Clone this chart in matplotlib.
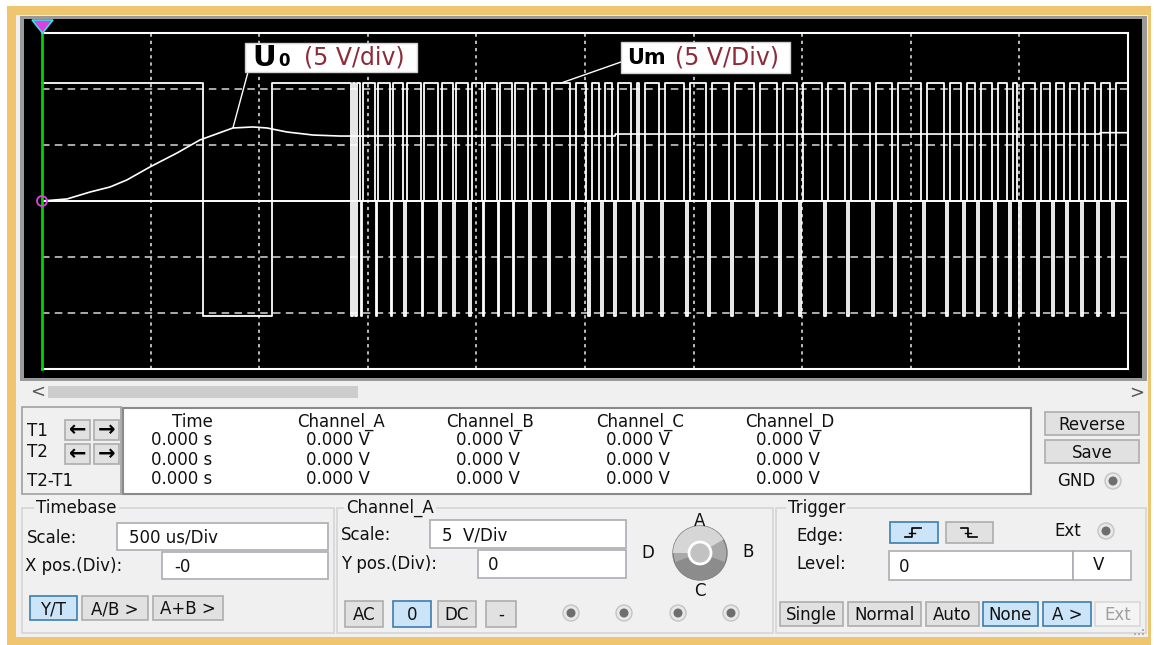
import matplotlib.pyplot as plt
from matplotlib.patches import Rectangle, Circle, Polygon, Wedge

# ---- traces (time in ms, 500 us/Div ; volts, 5 V/Div) ----
u0_time = [0.0, 0.115, 0.221, 0.313, 0.391, 0.497, 0.622, 0.727, 0.879, 0.971,
           1.036, 1.128, 1.248, 1.372, 2.638, 2.640, 4.870, 4.872, 5.0]
u0_volt = [0.0, 0.18, 0.80, 1.25, 1.88, 3.04, 4.29, 5.45, 6.52, 6.61,
           6.52, 6.16, 5.89, 5.80, 5.80, 5.98, 5.98, 6.10, 6.10]

um_high = 10.5
um_low = -10.3
um_low_start = 0.741
um_low_end = 1.059
dip_time = [1.427, 1.446, 1.471, 1.540, 1.609, 1.671, 1.752, 1.832, 1.897, 1.971,
            2.033, 2.102, 2.171, 2.247, 2.334, 2.445, 2.518, 2.578, 2.638, 2.726,
            2.762, 2.855, 2.970, 3.071, 3.177, 3.292, 3.398, 3.490, 3.605, 3.711,
            3.826, 3.927, 4.061, 4.167, 4.245, 4.309, 4.388, 4.457, 4.503, 4.586,
            4.655, 4.719, 4.788, 4.862, 4.931]
dip_width = [0.012, 0.012, 0.016, 0.016, 0.016, 0.016, 0.018, 0.018, 0.014, 0.018,
             0.016, 0.016, 0.016, 0.018, 0.028, 0.028, 0.028, 0.024, 0.028, 0.028,
             0.024, 0.028, 0.028, 0.030, 0.028, 0.030, 0.030, 0.030, 0.028, 0.030,
             0.030, 0.030, 0.028, 0.030, 0.028, 0.028, 0.028, 0.028, 0.024, 0.028,
             0.028, 0.028, 0.028, 0.028, 0.028]
spike_width = 0.007
ground_level = 0.0

# ---- readout table / panel text ----
readout_head = ["Time", "Channel_A", "Channel_B", "Channel_C", "Channel_D"]
readout_vals = ["0.000 s", "0.000 V", "0.000 V", "0.000 V", "0.000 V"]
cursor_rows = ["T1", "T2", "T2-T1"]

UI = "DejaVu Sans"
FS = 12

fig = plt.figure(figsize=(11.54, 6.45), dpi=100)
fig.patch.set_facecolor("white")

# background axes in pixel coordinates (y down)
bg = fig.add_axes([0, 0, 1, 1], zorder=0)
bg.set_xlim(0, 1154)
bg.set_ylim(645, 0)
bg.axis("off")


def box(x0, y0, x1, y1, fc, ec="none", lw=1.0, z=1, ax=bg):
    ax.add_patch(Rectangle((x0, y0), x1 - x0, y1 - y0, facecolor=fc,
                           edgecolor=ec, linewidth=lw, zorder=z))


def txt(x, y, s, size=FS, ha="left", color="#111111", ax=bg, **kw):
    ax.text(x, y, s, fontsize=size, ha=ha, va="center", color=color,
            family=UI, zorder=5, **kw)


def button(x0, y0, x1, y1, label, active=False, disabled=False):
    fc, ec = ("#CCE4F7", "#3C7FB1") if active else ("#E1E1E1", "#ADADAD")
    if disabled:
        fc, ec = "#F4F4F4", "#D9D9D9"
    box(x0, y0, x1, y1, fc, ec, 1.2, z=3)
    if label:
        txt((x0 + x1) / 2, (y0 + y1) / 2 + 1, label, ha="center",
            color="#A0A0A0" if disabled else "#111111")


def entry(x0, y0, x1, y1, s, pad=12):
    box(x0, y0, x1, y1, "white", "#ABADB3", 1.2, z=3)
    txt(x0 + pad, (y0 + y1) / 2 + 1, s)


def radio(x, y):
    bg.add_patch(Circle((x, y), 8, facecolor="#E8E8E8", edgecolor="#C4C4C4", lw=1, zorder=3))
    bg.add_patch(Circle((x, y), 4.5, facecolor="#6E6E6E", edgecolor="none", zorder=4))


def group(x0, y0, x1, y1, title, tx):
    box(x0, y0, x1, y1, "none", "#D5D5D5", 1.2, z=2)
    bg.text(tx, y0, title, fontsize=FS, ha="left", va="center", family=UI,
            color="#111111", zorder=5,
            bbox=dict(facecolor="#F0F0F0", edgecolor="none", pad=1.5))


# frame, panel and screen
box(7, 6, 1151, 645, "#EFC66F", z=0)
box(16, 15, 1148, 637, "#F0F0F0", z=0.5)
box(20, 16, 1147, 381, "#9A9A9A")
box(24, 19, 1142, 378, "black", z=1.5)

# scroll bar
box(48, 386, 358, 398, "#CDCDCD")
txt(30, 392, "<", size=13, color="#555555")
txt(1129, 393, ">", size=13, color="#555555")

# cursor readout
box(22, 407, 121, 494, "#F0F0F0", "#A0A0A0", 1.2)
box(123, 408, 1031, 494, "white", "#8A8A8A", 1.5)
for (lab, y) in zip(cursor_rows, [431, 452, 481]):
    txt(27, y, lab)
for y in (420, 444):
    button(65, y, 90, y + 20, "")
    button(94, y, 119, y + 20, "")
    txt(77.5, y + 10, "\u2190", size=15, ha="center", fontweight="bold", color="black")
    txt(106.5, y + 10, "\u2192", size=15, ha="center", fontweight="bold", color="black")
head_x = [192, 341, 490, 640, 790]
val_x = [182, 338, 488, 638, 788]
for hx, vx, h, v in zip(head_x, val_x, readout_head, readout_vals):
    txt(hx, 422, h, ha="center")
    for y in (440, 460, 479):
        txt(vx, y, v, ha="center")

button(1045, 412, 1139, 435, "Reverse")
button(1045, 440, 1139, 463, "Save")
txt(1057, 481, "GND")
radio(1113, 481)

# Timebase
group(22, 508, 334, 633, "Timebase", 36)
txt(27, 538, "Scale:")
entry(117, 523, 328, 550, "500 us/Div")
txt(25, 566, "X pos.(Div):")
entry(162, 552, 328, 579, "-0")
button(30, 596, 77, 620, "Y/T", active=True)
button(82, 596, 148, 620, "A/B >")
button(153, 596, 223, 620, "A+B >")

# Channel_A
group(337, 508, 773, 633, "Channel_A", 346)
txt(341, 535, "Scale:")
entry(430, 520, 626, 548, "5  V/Div")
txt(341, 564, "Y pos.(Div):")
entry(478, 550, 626, 578, "0", pad=10)
button(345, 601, 383, 627, "AC")
button(393, 601, 431, 627, "0", active=True)
button(438, 601, 476, 627, "DC")
button(486, 601, 516, 627, "-")
for rx in (571, 624, 678, 731):
    radio(rx, 613)
bg.add_patch(Circle((700, 553), 27, facecolor="#A9A9A9", edgecolor="#7A7A7A", lw=1, zorder=3))
bg.add_patch(Wedge((700, 553), 27, 180, 330, facecolor="#D6D6D6", edgecolor="none", zorder=3.5))
bg.add_patch(Wedge((700, 553), 27, 20, 160, facecolor="#8C8C8C", edgecolor="none", zorder=3.5))
bg.add_patch(Circle((700, 553), 11, facecolor="#C2C2C2", edgecolor="white", lw=2, zorder=4))
for lab, (kx, ky) in zip("ABCD", [(700, 521), (748, 552), (700, 591), (648, 553)]):
    txt(kx, ky, lab, ha="center")

# Trigger
group(776, 508, 1146, 633, "Trigger", 788)
txt(796, 536, "Edge:")
button(890, 522, 938, 543, "", active=True)
button(946, 522, 993, 543, "")
bg.plot([905, 912, 912, 921], [537, 537, 528, 528], color="black", lw=1.2, zorder=6)
bg.plot([909, 915], [533, 533], color="black", lw=1.0, zorder=6)
bg.plot([961, 968, 968, 977], [528, 528, 537, 537], color="black", lw=1.2, zorder=6)
bg.plot([965, 971], [533, 533], color="black", lw=1.0, zorder=6)
txt(1054, 531, "Ext")
radio(1106, 531)
txt(796, 564, "Level:")
entry(889, 551, 1073, 580, "0", pad=10)
box(1073, 551, 1131, 580, "white", "#ABADB3", 1.2, z=3)
txt(1093, 565, "V")
button(780, 602, 843, 626, "Single")
button(848, 602, 921, 626, "Normal")
button(926, 602, 979, 626, "Auto")
button(983, 602, 1038, 626, "None", active=True)
button(1043, 602, 1091, 626, "A >", active=True)
button(1095, 602, 1140, 626, "Ext", disabled=True)
for gx, gy in [(1142, 629), (1138, 633), (1142, 633), (1134, 633)]:
    box(gx, gy, gx + 2, gy + 2, "#B0B0B0", z=3)

# ---- scope screen: 10 x 6 divisions ----
W, H = 1154, 645
ax = fig.add_axes([42 / W, (H - 369) / H, 1086 / W, 336 / H], zorder=1)
ax.set_facecolor("none")
ax.set_xlim(0, 5.0)
ax.set_ylim(-15, 15)
ax.set_xticks([])
ax.set_yticks([])
for side in ("top", "right", "bottom"):
    ax.spines[side].set_color("white")
    ax.spines[side].set_linewidth(1.5)
ax.spines["left"].set_visible(False)

for k in range(1, 10):
    ax.axvline(k * 0.5, color="#C8C8C8", lw=1.3, ls=(0, (1.8, 2.2)), zorder=1)
for v in (-10, -5, 5, 10):
    ax.axhline(v, color="#C8C8C8", lw=1.2, ls=(0, (4.5, 3.2)), zorder=1)

# Um step trace
um_t = [0.0, um_low_start, um_low_end]
um_v = [um_high, um_low, um_high]
for c, w in zip(dip_time, dip_width):
    um_t += [c - w / 2, c - spike_width / 2, c + spike_width / 2, c + w / 2]
    um_v += [0.0, um_low, 0.0, um_high]
um_t.append(5.0)
um_v.append(um_high)
ax.step(um_t, um_v, where="post", color="white", lw=1.3, zorder=3, clip_on=False)
ax.axhline(ground_level, color="white", lw=1.4, zorder=3)
ax.plot(u0_time, u0_volt, color="white", lw=1.2, zorder=4)

# overlay in pixel coordinates
ov = fig.add_axes([0, 0, 1, 1], zorder=2)
ov.set_facecolor("none")
ov.set_xlim(0, 1154)
ov.set_ylim(645, 0)
ov.axis("off")

ax.annotate("", xy=(0.879, 6.52), xycoords="data", xytext=(248, 72),
            textcoords=ov.transData,
            arrowprops=dict(arrowstyle="-", color="white", lw=1.0, shrinkA=0, shrinkB=0))
ax.annotate("", xy=(2.385, um_high), xycoords="data", xytext=(621, 62),
            textcoords=ov.transData,
            arrowprops=dict(arrowstyle="-", color="white", lw=1.0, shrinkA=0, shrinkB=0))

box(245, 43, 417, 72, "white", "#D0D0D0", 1.0, z=3, ax=ov)
ov.text(252, 58, "U", fontsize=21, fontweight="bold", family=UI, va="center", zorder=5)
ov.text(278, 61, "0", fontsize=12, fontweight="bold", family=UI, va="center", zorder=5)
ov.text(304, 58, "(5 V/div)", fontsize=17, family=UI, color="#8C2B3A", va="center", zorder=5)

box(621, 42, 790, 73, "white", "#D0D0D0", 1.0, z=3, ax=ov)
ov.text(627, 58, "Um", fontsize=15, fontweight="bold", family=UI, va="center", zorder=5)
ov.text(675, 58, "(5 V/Div)", fontsize=17, family=UI, color="#8C2B3A", va="center", zorder=5)

# T1 cursor
ov.plot([42, 42], [22, 369], color="#00D400", lw=2, zorder=3)
ov.add_patch(Polygon([(32, 20), (53, 20), (42.5, 33)], closed=True,
                     facecolor="#E040E0", edgecolor="#30E0E8", lw=1.2, zorder=4))
ov.add_patch(Circle((42, 201), 5, facecolor="none", edgecolor="#E040E0", lw=1.3, zorder=4))

fig.savefig("out.png", dpi=100, facecolor=fig.get_facecolor())
